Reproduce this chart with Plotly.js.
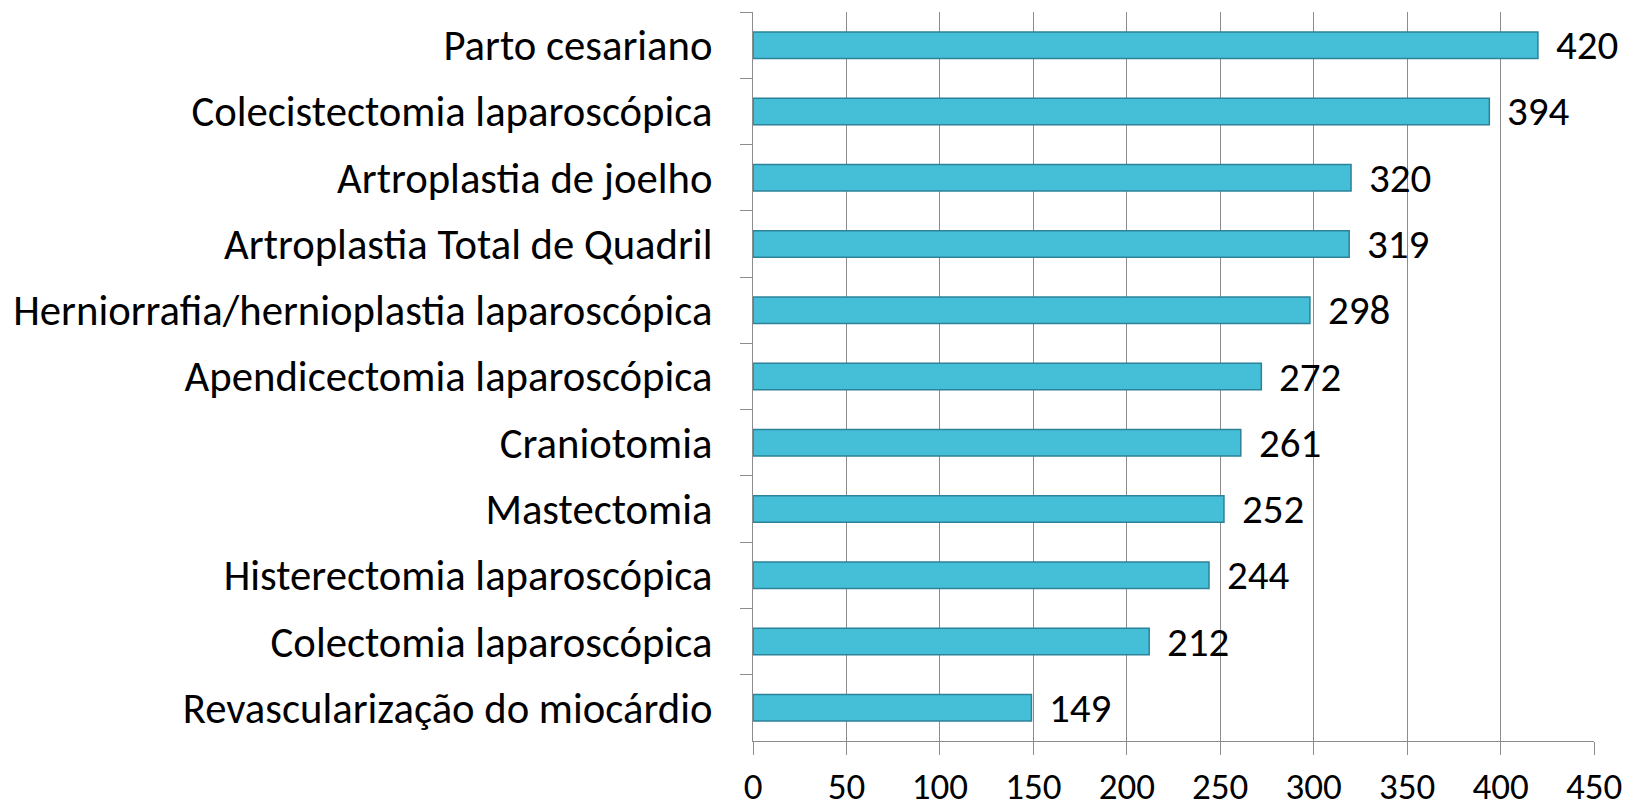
<!DOCTYPE html>
<html>
<head>
<meta charset="utf-8">
<script src="https://cdn.plot.ly/plotly-3.0.1.min.js"></script>
<style>html,body{margin:0;padding:0;background:#fff;}#chart{width:1633px;height:812px;}</style>
</head>
<body>
<div id="chart"></div>
<script>
const categories = [
  "Parto cesariano",
  "Colecistectomia laparoscópica",
  "Artroplastia de joelho",
  "Artroplastia Total de Quadril",
  "Herniorrafia/hernioplastia laparoscópica",
  "Apendicectomia laparoscópica",
  "Craniotomia",
  "Mastectomia",
  "Histerectomia laparoscópica",
  "Colectomia laparoscópica",
  "Revascularização do miocárdio"
];
const values = [420, 394, 320, 319, 298, 272, 261, 252, 244, 212, 149];
const xTicks = [0, 50, 100, 150, 200, 250, 300, 350, 400, 450];

const FONT = "Carlito, 'Open Sans', sans-serif";

const trace = {
  type: "bar",
  orientation: "h",
  y: categories,
  x: values,
  width: 0.4,
  marker: {
    color: "#45BED8",
    line: { color: "#2C8399", width: 1.5 }
  },
  hoverinfo: "x+y"
};

const annotations = categories.map((c, i) => ({
  x: values[i],
  y: c,
  xref: "x",
  yref: "y",
  text: String(values[i]),
  showarrow: false,
  xanchor: "left",
  yanchor: "middle",
  xshift: 16,
  font: { family: FONT, size: 41, color: "#000" }
}));

const layout = {
  width: 1633,
  height: 812,
  margin: { l: 753, r: 39, t: 12, b: 71 },
  paper_bgcolor: "#fff",
  plot_bgcolor: "#fff",
  showlegend: false,
  font: { family: FONT, size: 41, color: "#000" },
  xaxis: {
    range: [0, 450],
    tickvals: xTicks,
    ticktext: xTicks.map(String),
    showgrid: true,
    gridcolor: "#8C8C8C",
    gridwidth: 1,
    showline: true,
    linecolor: "#8C8C8C",
    linewidth: 1,
    ticks: "outside",
    ticklen: 13,
    tickcolor: "#8C8C8C",
    ticklabelstandoff: 0,
    tickfont: { family: FONT, size: 37, color: "#000" },
    zeroline: false,
    fixedrange: true
  },
  yaxis: {
    type: "category",
    categoryorder: "array",
    categoryarray: categories,
    autorange: "reversed",
    showgrid: false,
    showline: true,
    linecolor: "#8C8C8C",
    linewidth: 1,
    ticks: "outside",
    tickson: "boundaries",
    ticklen: 12,
    tickcolor: "#8C8C8C",
    ticklabelstandoff: 31,
    tickfont: { family: FONT, size: 42.7, color: "#000" },
    zeroline: false,
    fixedrange: true
  },
  annotations: annotations
};

Plotly.newPlot("chart", [trace], layout, { displayModeBar: false, staticPlot: true });
</script>
</body>
</html>
